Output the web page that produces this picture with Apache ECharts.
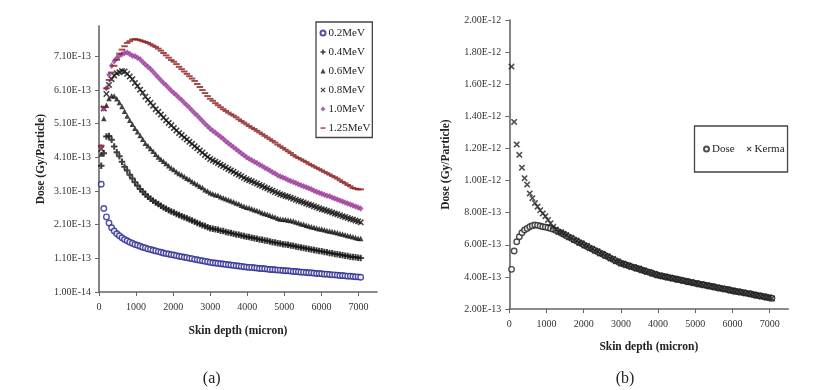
<!DOCTYPE html>
<html>
<head>
<meta charset="utf-8">
<script src="https://cdn.jsdelivr.net/npm/echarts@6/dist/echarts.min.js"></script>
<style>
html,body{margin:0;padding:0;background:#fff;}
#c{width:814px;height:390px;}
</style>
</head>
<body>
<div id="c"></div>
<script>
// ---------- data (dose values in units of 1e-13 Gy/particle) ----------
const depth = [60,130,200,270,340,410,480,550,620,690,760,830,900,970,1040,1110,1180,1250,1320,1390,
  1460,1530,1600,1670,1740,1810,1880,1950,2020,2090,2160,2230,2300,2370,2440,2510,2580,2650,2720,2790,
  2860,2930,3000,3070,3140,3210,3280,3350,3420,3490,3560,3630,3700,3770,3840,3910,3980,4050,4120,4190,
  4260,4330,4400,4470,4540,4610,4680,4750,4820,4890,4960,5030,5100,5170,5240,5310,5380,5450,5520,5590,
  5660,5730,5800,5870,5940,6010,6080,6150,6220,6290,6360,6430,6500,6570,6640,6710,6780,6850,6920,6990,7060];

const mev02 = [3.30,2.58,2.33,2.15,2.01,1.91,1.83,1.77,1.71,1.66,1.62,1.58,1.55,1.51,1.49,1.46,1.43,1.41,1.38,1.36,
  1.34,1.32,1.30,1.28,1.26,1.24,1.23,1.21,1.20,1.18,1.16,1.15,1.13,1.12,1.10,1.09,1.07,1.06,1.04,1.03,
  1.01,1.00,0.98,0.97,0.96,0.95,0.94,0.93,0.92,0.91,0.90,0.89,0.88,0.87,0.86,0.85,0.84,0.83,0.83,0.82,
  0.81,0.80,0.80,0.79,0.78,0.77,0.77,0.76,0.75,0.75,0.74,0.73,0.73,0.72,0.71,0.71,0.70,0.69,0.69,0.68,
  0.67,0.67,0.66,0.65,0.65,0.64,0.63,0.63,0.62,0.61,0.61,0.60,0.59,0.59,0.58,0.57,0.57,0.56,0.55,0.55,0.54];

const mev04 = [3.85,4.22,4.72,4.73,4.62,4.42,4.25,4.13,3.97,3.82,3.71,3.58,3.47,3.36,3.26,3.16,3.08,3.00,2.93,2.87,
  2.81,2.76,2.71,2.66,2.61,2.57,2.53,2.49,2.46,2.42,2.39,2.35,2.32,2.29,2.25,2.22,2.19,2.15,2.12,2.08,
  2.06,2.02,1.99,1.98,1.96,1.95,1.92,1.91,1.88,1.87,1.85,1.83,1.81,1.80,1.78,1.76,1.74,1.73,1.71,1.70,
  1.68,1.66,1.65,1.63,1.62,1.60,1.58,1.57,1.55,1.54,1.52,1.51,1.50,1.48,1.47,1.45,1.44,1.42,1.41,1.39,
  1.38,1.36,1.35,1.33,1.32,1.31,1.29,1.28,1.26,1.25,1.23,1.22,1.21,1.19,1.18,1.17,1.15,1.14,1.13,1.12,1.11];

const mev06 = [4.20,5.25,5.65,5.85,5.93,5.92,5.84,5.73,5.61,5.47,5.33,5.20,5.08,4.96,4.86,4.75,4.64,4.52,4.44,4.36,
  4.28,4.19,4.11,4.04,3.98,3.92,3.85,3.78,3.74,3.67,3.62,3.58,3.53,3.48,3.44,3.38,3.34,3.29,3.24,3.20,
  3.14,3.10,3.05,3.02,2.99,2.97,2.93,2.90,2.87,2.84,2.81,2.78,2.74,2.72,2.68,2.65,2.62,2.60,2.57,2.54,
  2.52,2.49,2.45,2.43,2.41,2.38,2.35,2.33,2.29,2.27,2.26,2.25,2.24,2.22,2.21,2.18,2.16,2.13,2.11,2.08,
  2.06,2.04,2.02,2.00,1.98,1.97,1.95,1.93,1.91,1.90,1.88,1.86,1.84,1.82,1.80,1.78,1.76,1.74,1.72,1.70,1.69];

const mev08 = [4.35,5.55,5.98,6.25,6.42,6.53,6.60,6.63,6.66,6.65,6.58,6.50,6.42,6.31,6.22,6.11,6.02,5.90,5.81,5.72,
  5.63,5.53,5.45,5.37,5.28,5.20,5.12,5.05,4.97,4.90,4.82,4.76,4.69,4.63,4.56,4.50,4.43,4.37,4.30,4.24,
  4.17,4.11,4.05,4.01,3.97,3.93,3.88,3.84,3.80,3.75,3.71,3.67,3.62,3.58,3.54,3.49,3.45,3.42,3.39,3.35,
  3.32,3.28,3.25,3.21,3.18,3.14,3.11,3.07,3.04,3.00,2.98,2.95,2.93,2.90,2.87,2.84,2.81,2.79,2.76,2.73,
  2.70,2.68,2.65,2.62,2.59,2.56,2.54,2.51,2.49,2.46,2.43,2.41,2.38,2.35,2.33,2.30,2.27,2.25,2.22,2.20,2.17];

const mev10 = [4.40,5.55,6.15,6.55,6.82,6.95,7.05,7.12,7.16,7.20,7.21,7.17,7.12,7.10,7.06,7.01,6.93,6.86,6.79,6.72,
  6.64,6.55,6.47,6.39,6.31,6.24,6.16,6.08,6.01,5.94,5.87,5.80,5.72,5.65,5.57,5.49,5.41,5.34,5.26,5.18,
  5.10,5.02,4.95,4.89,4.83,4.77,4.71,4.65,4.58,4.52,4.46,4.40,4.34,4.28,4.22,4.16,4.10,4.06,4.01,3.97,
  3.93,3.88,3.84,3.79,3.75,3.71,3.66,3.62,3.57,3.53,3.50,3.47,3.43,3.40,3.37,3.34,3.30,3.27,3.24,3.21,
  3.18,3.15,3.11,3.08,3.05,3.02,2.99,2.96,2.94,2.91,2.88,2.85,2.82,2.79,2.76,2.73,2.70,2.67,2.64,2.61,2.58];

const mev125 = [4.45,5.60,6.15,6.40,6.62,6.82,7.00,7.18,7.30,7.40,7.50,7.55,7.60,7.61,7.60,7.58,7.55,7.53,7.50,7.46,
  7.42,7.38,7.33,7.27,7.20,7.13,7.06,6.99,6.94,6.87,6.79,6.72,6.65,6.58,6.51,6.44,6.37,6.28,6.19,6.10,
  6.01,5.92,5.84,5.78,5.71,5.65,5.59,5.53,5.48,5.43,5.38,5.34,5.29,5.23,5.18,5.13,5.08,5.03,4.98,4.94,
  4.89,4.84,4.79,4.74,4.69,4.64,4.59,4.54,4.48,4.43,4.38,4.33,4.28,4.23,4.17,4.12,4.08,4.04,4.00,3.96,
  3.91,3.87,3.83,3.79,3.75,3.71,3.67,3.63,3.59,3.55,3.51,3.47,3.42,3.37,3.33,3.28,3.24,3.19,3.17,3.15,3.15];

const doseB = [4.47,5.61,6.19,6.50,6.75,6.92,7.02,7.12,7.19,7.23,7.21,7.17,7.12,7.10,7.06,7.02,6.97,6.90,6.82,6.74,
  6.66,6.57,6.49,6.40,6.32,6.23,6.14,6.06,5.97,5.89,5.81,5.73,5.65,5.57,5.49,5.41,5.33,5.25,5.17,5.09,
  5.01,4.93,4.85,4.80,4.75,4.69,4.64,4.59,4.54,4.49,4.43,4.38,4.33,4.28,4.23,4.17,4.12,4.08,4.05,4.01,
  3.98,3.94,3.91,3.87,3.84,3.80,3.77,3.73,3.70,3.66,3.63,3.59,3.56,3.53,3.50,3.46,3.43,3.40,3.37,3.33,
  3.30,3.27,3.24,3.21,3.17,3.14,3.11,3.08,3.05,3.02,2.99,2.96,2.93,2.89,2.86,2.83,2.80,2.77,2.73,2.70,2.67];

const kermaB = [17.10,13.65,12.25,11.60,10.80,10.15,9.75,9.20,8.90,8.60,8.37,8.15,7.95,7.78,7.55,7.34,7.12,6.95,6.80,6.78,
  6.68,6.61,6.47,6.43,6.30,6.26,6.12,6.09,5.95,5.92,5.79,5.76,5.63,5.60,5.46,5.44,5.30,5.28,5.14,5.12,
  4.98,4.96,4.83,4.82,4.72,4.71,4.61,4.62,4.51,4.52,4.41,4.40,4.30,4.30,4.20,4.19,4.10,4.10,4.02,4.03,
  3.95,3.96,3.88,3.89,3.81,3.82,3.74,3.75,3.67,3.68,3.60,3.61,3.53,3.55,3.47,3.48,3.40,3.42,3.34,3.35,
  3.27,3.29,3.21,3.23,3.14,3.16,3.08,3.10,3.02,3.04,2.96,2.98,2.90,2.91,2.83,2.85,2.77,2.79,2.70,2.72,2.66];

const seriesNamesA = ['0.2MeV','0.4MeV','0.6MeV','0.8MeV','1.0MeV','1.25MeV'];
const seriesNamesB = ['Dose','Kerma'];
const xTicks = [0,1000,2000,3000,4000,5000,6000,7000];
const yTicksA = [0.1,1.1,2.1,3.1,4.1,5.1,6.1,7.1];   // x 1e-13
const yTicksB = [2,4,6,8,10,12,14,16,18,20];         // x 1e-13
const xTitle = 'Skin depth (micron)';
const yTitle = 'Dose (Gy/Particle)';

// ---------- styles ----------
const SERIF = '"Liberation Serif","Times New Roman",serif';
const AX = '#666';
const PLUS = 'path://M3.4,0 L6.6,0 L6.6,3.4 L10,3.4 L10,6.6 L6.6,6.6 L6.6,10 L3.4,10 L3.4,6.6 L0,6.6 L0,3.4 L3.4,3.4 Z';
const CROSS = 'path://M0,1.7 L1.7,0 L5,3.3 L8.3,0 L10,1.7 L6.7,5 L10,8.3 L8.3,10 L5,6.7 L1.7,10 L0,8.3 L3.3,5 Z';
const DASH = 'path://M0,0 M10,10 M0,3.6 L10,3.6 L10,6.6 L0,6.6 Z';

const pts = arr => depth.map((d, i) => [d, arr[i]]);

function xAxisCfg(gi) {
  return {
    type: 'value', gridIndex: gi, min: 0, max: 7500,
    name: xTitle, nameLocation: 'middle', nameGap: gi === 0 ? 33 : 32,
    nameTextStyle: { fontFamily: SERIF, fontWeight: 'bold', fontSize: 11.5, color: '#222' },
    axisLine: { show: true, onZero: false, lineStyle: { color: AX, width: 1.6 } },
    axisTick: { show: true, length: 4, customValues: xTicks, lineStyle: { color: AX, width: 1 } },
    axisLabel: { customValues: xTicks, margin: 10, fontFamily: SERIF, fontSize: 10, color: '#333',
      formatter: v => String(v) },
    splitLine: { show: false }
  };
}

const sym = (name, symbol, size, color, hollow, gi) => ({
  name, type: 'scatter', xAxisIndex: gi, yAxisIndex: gi,
  symbol, symbolSize: size,
  itemStyle: hollow ? { color: '#fff', borderColor: color, borderWidth: 1.4 } : { color: color, borderWidth: 0 },
  emphasis: { disabled: true }
});

const chart = echarts.init(document.getElementById('c'), null, { renderer: 'canvas' });
const option = {
  backgroundColor: '#fff',
  animation: false,
  grid: [
    { left: 99, top: 26, width: 278, height: 266 },
    { left: 509.3, top: 20, width: 279, height: 289 }
  ],
  xAxis: [xAxisCfg(0), xAxisCfg(1)],
  yAxis: [
    {
      type: 'value', gridIndex: 0, min: 0.1, max: 8.0,
      name: yTitle, nameLocation: 'middle', nameGap: 52,
      nameTextStyle: { fontFamily: SERIF, fontWeight: 'bold', fontSize: 11.5, color: '#222' },
      axisLine: { show: true, onZero: false, lineStyle: { color: AX, width: 1.6 } },
      axisTick: { show: true, length: 4, customValues: yTicksA, lineStyle: { color: AX, width: 1 } },
      axisLabel: {
        customValues: yTicksA, margin: 8, fontFamily: SERIF, fontSize: 10, color: '#333',
        formatter: v => v < 1 ? '1.00E-14' : v.toFixed(2) + 'E-13'
      },
      splitLine: { show: false }
    },
    {
      type: 'value', gridIndex: 1, min: 2, max: 20, interval: 2,
      name: yTitle, nameLocation: 'middle', nameGap: 57,
      nameTextStyle: { fontFamily: SERIF, fontWeight: 'bold', fontSize: 11.5, color: '#222' },
      axisLine: { show: true, onZero: false, lineStyle: { color: AX, width: 1.6 } },
      axisTick: { show: true, length: 4, customValues: yTicksB, lineStyle: { color: AX, width: 1 } },
      axisLabel: {
        customValues: yTicksB, margin: 8, fontFamily: SERIF, fontSize: 10, color: '#333',
        formatter: v => v >= 10 ? (v / 10).toFixed(2) + 'E-12' : v.toFixed(2) + 'E-13'
      },
      splitLine: { show: false }
    }
  ],
  legend: [
    {
      data: seriesNamesA, orient: 'vertical', left: 316, top: 22,
      padding: [5.5, 2, 4, 3.5], itemGap: 8, itemWidth: 5, itemHeight: 5,
      borderColor: '#444', borderWidth: 1.3, backgroundColor: '#fff',
      textStyle: { fontFamily: SERIF, fontSize: 11, lineHeight: 11, color: '#222', padding: [0, 0, 0, -2] },
      selectedMode: false
    },
    {
      data: seriesNamesB, orient: 'horizontal', left: 694.5, top: 126,
      padding: [17.5, 3, 17.5, 8.5], itemGap: 12, itemWidth: 5, itemHeight: 5,
      borderColor: '#444', borderWidth: 1.3, backgroundColor: '#fff',
      textStyle: { fontFamily: SERIF, fontSize: 11, lineHeight: 11, color: '#222', padding: [0, 0, 0, -2] },
      selectedMode: false
    }
  ],
  series: [
    Object.assign(sym(seriesNamesA[0], 'circle', 5.5, '#25258f', true, 0), { data: pts(mev02) }),
    Object.assign(sym(seriesNamesA[1], PLUS, 6.5, '#111', false, 0), { data: pts(mev04) }),
    Object.assign(sym(seriesNamesA[2], 'triangle', 5.5, '#111', false, 0), { data: pts(mev06) }),
    Object.assign(sym(seriesNamesA[3], CROSS, 6.5, '#111', false, 0), { data: pts(mev08) }),
    Object.assign(sym(seriesNamesA[4], 'diamond', [5.5, 6.5], '#9a3a9a', false, 0), { data: pts(mev10) }),
    Object.assign(sym(seriesNamesA[5], DASH, [6.5, 6.5], '#8b1a1a', false, 0), { data: pts(mev125) }),
    Object.assign(sym(seriesNamesB[0], 'circle', 5.5, '#222', true, 1), { data: pts(doseB) }),
    Object.assign(sym(seriesNamesB[1], CROSS, 6.5, '#222', false, 1), { data: pts(kermaB) })
  ],
  graphic: [
    { type: 'text', x: 211.7, y: 379, style: { text: '(a)', align: 'center', verticalAlign: 'middle', font: '16px ' + SERIF, fill: '#222' } },
    { type: 'text', x: 625, y: 379, style: { text: '(b)', align: 'center', verticalAlign: 'middle', font: '16px ' + SERIF, fill: '#222' } }
  ]
};
chart.setOption(option);
</script>
</body>
</html>
